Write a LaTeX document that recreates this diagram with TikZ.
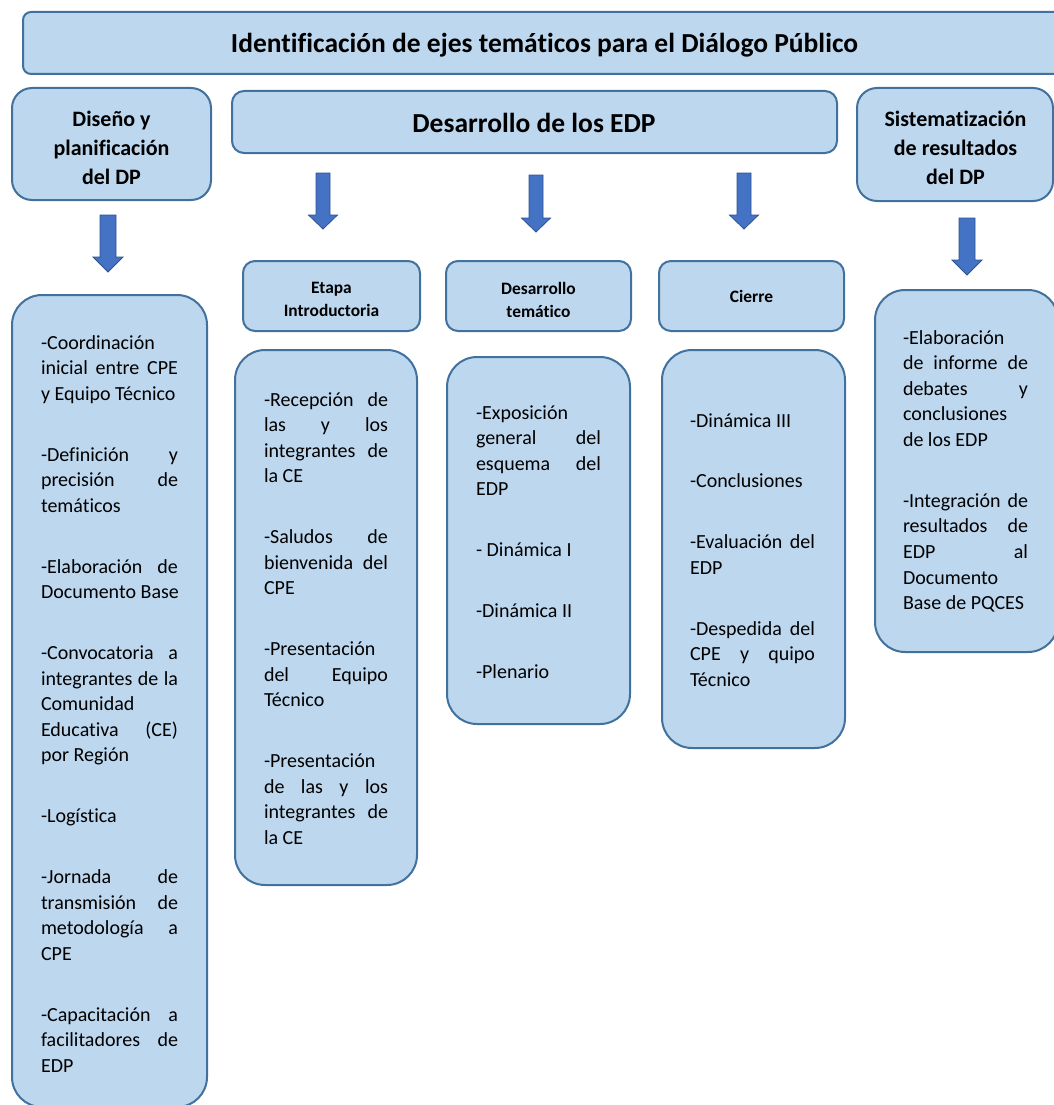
\documentclass[tikz,border=0pt]{standalone}
\usepackage{fontspec}
\setmainfont{Carlito}[Ligatures={NoCommon}]
\definecolor{boxfill}{HTML}{BDD7EE}
\definecolor{boxline}{HTML}{41719C}
\definecolor{arrowfill}{HTML}{4472C4}
\definecolor{arrowline}{HTML}{2F528F}
\newcommand\jline[1]{\hbox to\hsize{#1}}
\newcommand\nline[1]{\hbox{#1}}
\newcommand\pgap{\vskip35.2pt}
\newcommand\bodycol[2]{\vtop{\hsize=#1\relax\fontsize{20}{25.6}\selectfont\baselineskip=25.6pt #2}}
\newcommand\cstack[1]{\vtop{\halign{\hfil##\hfil\cr#1\crcr}}}
\tikzset{
  box/.style={draw=boxline, fill=boxfill, line width=2pt, inner sep=0pt, outer sep=0pt, anchor=north west},
  txt/.style={inner sep=0pt, outer sep=0pt, text=black},
  hdfont/.style={font=\fontsize{22}{29}\selectfont\bfseries},
  smfont/.style={font=\fontsize{17.4}{23}\selectfont\bfseries},
  bigfont/.style={font=\fontsize{27.5}{33}\selectfont\bfseries},
  blockarrow/.style={fill=arrowfill, draw=arrowline, line width=0.8pt, line join=miter}
}
\begin{document}
\begin{tikzpicture}[x=1pt, y=-1pt]
\useasboundingbox (0,0) rectangle (1054,1105);
\clip (0,0) rectangle (1054,1105);
% header boxes
\node[box, rounded corners=8pt, minimum width=1039pt, minimum height=62pt] (title) at (23,12) {};
\node[box, rounded corners=20pt, minimum width=199pt, minimum height=112pt] (hD) at (12,88) {};
\node[box, rounded corners=12pt, minimum width=605pt, minimum height=62pt] (hE) at (232,91) {};
\node[box, rounded corners=20pt, minimum width=196pt, minimum height=113pt] (hS) at (857,88) {};
\node[box, rounded corners=12pt, minimum width=177pt, minimum height=70pt] (sE) at (243,261) {};
\node[box, rounded corners=12pt, minimum width=185pt, minimum height=70pt] (sD) at (446,261) {};
\node[box, rounded corners=12pt, minimum width=185pt, minimum height=70pt] (sC) at (659,261) {};
% content boxes
\node[box, rounded corners=30pt, minimum width=195pt, minimum height=812pt] (cL) at (12,295) {};
\node[box, rounded corners=30pt, minimum width=182pt, minimum height=535pt] (cE) at (235,350) {};
\node[box, rounded corners=30pt, minimum width=183pt, minimum height=367pt] (cD) at (447,357) {};
\node[box, rounded corners=30pt, minimum width=183pt, minimum height=398pt] (cC) at (662,350) {};
\node[box, rounded corners=30pt, minimum width=183pt, minimum height=362pt] (cS) at (875,290) {};
% arrows
\foreach \cx/\tp/\hs/\tip/\sw/\hw in {108/215/257/272/8/15, 323/173/215/229/7/14.5, 536/175/218/232/7/14.5, 744/173/215/229/7/14.5, 967/218/260/275/8/15}{
  \draw[blockarrow] (\cx-\sw,\tp) -- (\cx+\sw,\tp) -- (\cx+\sw,\hs) -- (\cx+\hw,\hs) -- (\cx,\tip) -- (\cx-\hw,\hs) -- (\cx-\sw,\hs) -- cycle;
}
% titles
\node[txt, bigfont, anchor=base] (ttitle) at (544.5,53) {Identificación de ejes temáticos para el Diálogo Público};
\node[txt, bigfont, anchor=base] (thE) at (534,132) {Desarrollo de los EDP};
\node[txt, hdfont, anchor=base] (thD) at (111.5,126.5) {\cstack{Diseño y\cr planificación\cr del DP}};
\node[txt, hdfont, anchor=base] (thS) at (955.5,126.5) {\cstack{Sistematización\cr de resultados\cr del DP}};
\node[txt, smfont, anchor=base] (tsE) at (331.5,293) {\cstack{Etapa\cr Introductoria}};
\begin{scope}
\clip (446,261) rectangle (631,316.5);
\node[txt, smfont, anchor=base] (tsD) at (538.5,294) {\cstack{Desarrollo\cr temático}};
\end{scope}
\node[txt, smfont, anchor=base] (tsC) at (751.5,302) {Cierre};
% body texts
\node[txt, anchor=base west] (tL) at (41,349) {\bodycol{137pt}{%
\nline{-Coordinación}\jline{inicial entre CPE}\nline{y Equipo Técnico}\pgap
\jline{-Definición y}\jline{precisión de}\nline{temáticos}\pgap
\jline{-Elaboración de}\nline{Documento Base}\pgap
\jline{-Convocatoria a}\jline{integrantes de la}\nline{Comunidad}\jline{Educativa (CE)}\nline{por Región}\pgap
\nline{-Logística}\pgap
\jline{-Jornada de}\jline{transmisión de}\jline{metodología a}\nline{CPE}\pgap
\jline{-Capacitación a}\jline{facilitadores de}\nline{EDP}}};
\node[txt, anchor=base west] (tE) at (264,406) {\bodycol{124pt}{%
\jline{-Recepción de}\jline{las y los}\jline{integrantes de}\nline{la CE}\pgap
\jline{-Saludos de}\jline{bienvenida del}\nline{CPE}\pgap
\nline{-Presentación}\jline{del Equipo}\nline{Técnico}\pgap
\nline{-Presentación}\jline{de las y los}\jline{integrantes de}\nline{la CE}}};
\node[txt, anchor=base west] (tD) at (476,419) {\bodycol{125pt}{%
\nline{-Exposición}\jline{general del}\jline{esquema del}\nline{EDP}\pgap
\nline{- Dinámica I}\pgap
\nline{-Dinámica II}\pgap
\nline{-Plenario}}};
\node[txt, anchor=base west] (tC) at (690,427) {\bodycol{125pt}{%
\nline{-Dinámica III}\pgap
\nline{-Conclusiones}\pgap
\jline{-Evaluación del}\nline{EDP}\pgap
\jline{-Despedida del}\jline{CPE y quipo}\nline{Técnico}}};
\node[txt, anchor=base west] (tS) at (903,344) {\bodycol{125pt}{%
\nline{-Elaboración}\jline{de informe de}\jline{debates y}\nline{conclusiones}\nline{de los EDP}\pgap
\jline{-Integración de}\jline{resultados de}\jline{EDP al}\nline{Documento}\nline{Base de PQCES}}};
\end{tikzpicture}
\end{document}
